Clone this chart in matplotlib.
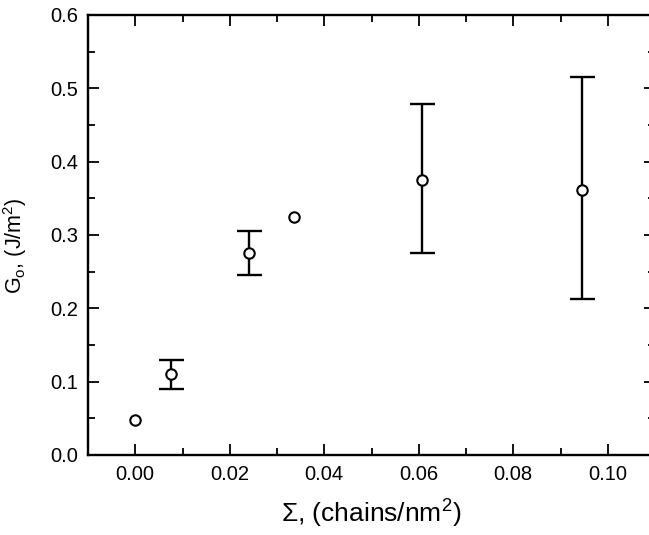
import matplotlib
matplotlib.use("Agg")
import matplotlib.pyplot as plt
from matplotlib.ticker import MultipleLocator

plt.rcParams['font.family'] = ['Liberation Sans', 'DejaVu Sans']
plt.rcParams['mathtext.fontset'] = 'custom'
plt.rcParams['mathtext.rm'] = 'Liberation Sans'
plt.rcParams['mathtext.it'] = 'Liberation Sans:italic'

sigma = [0.0, 0.0075, 0.024, 0.0337, 0.0606, 0.0946]
G0 = [0.048, 0.110, 0.275, 0.325, 0.375, 0.362]
err_low = [0.0, 0.020, 0.030, 0.0, 0.100, 0.149]
err_high = [0.0, 0.020, 0.030, 0.0, 0.103, 0.153]

fig = plt.figure(figsize=(6.49, 5.35), dpi=100)
ax = fig.add_axes([88/649, 1-455/535, (655-88)/649, (455-15)/535])

has_err = [i for i in range(len(sigma)) if err_low[i] > 0]
ax.errorbar([sigma[i] for i in has_err], [G0[i] for i in has_err],
            yerr=[[err_low[i] for i in has_err], [err_high[i] for i in has_err]],
            fmt='none', ecolor='black', elinewidth=1.7, capsize=9, capthick=1.7, zorder=2)
ax.plot(sigma, G0, linestyle='none', marker='o', ms=7.5, mfc='white', mec='black', mew=1.5, zorder=3)

ax.set_xlim(-0.01, 0.11)
ax.set_ylim(0.0, 0.6)
ax.xaxis.set_minor_locator(MultipleLocator(0.01))
ax.yaxis.set_minor_locator(MultipleLocator(0.05))
ax.set_xticks([0.0, 0.02, 0.04, 0.06, 0.08, 0.10])
ax.set_xticklabels(['0.00', '0.02', '0.04', '0.06', '0.08', '0.10'])
ax.set_yticks([0.0, 0.1, 0.2, 0.3, 0.4, 0.5, 0.6])
ax.set_yticklabels(['0.0', '0.1', '0.2', '0.3', '0.4', '0.5', '0.6'])
ax.tick_params(which='both', direction='in', top=True, right=True, labelsize=14.5, width=1.3)
ax.tick_params(which='major', length=8, pad=7)
ax.tick_params(which='minor', length=5)
for s in ax.spines.values():
    s.set_linewidth(1.7)

ax.set_xlabel(r'$\Sigma$, (chains/nm$^2$)', fontsize=19, labelpad=10)
ax.set_ylabel(r'G$_\mathrm{o}$, (J/m$^2$)', fontsize=15.5, labelpad=8)
ax.yaxis.set_label_coords(-0.104, 0.475)

fig.savefig('out.png', dpi=100)
